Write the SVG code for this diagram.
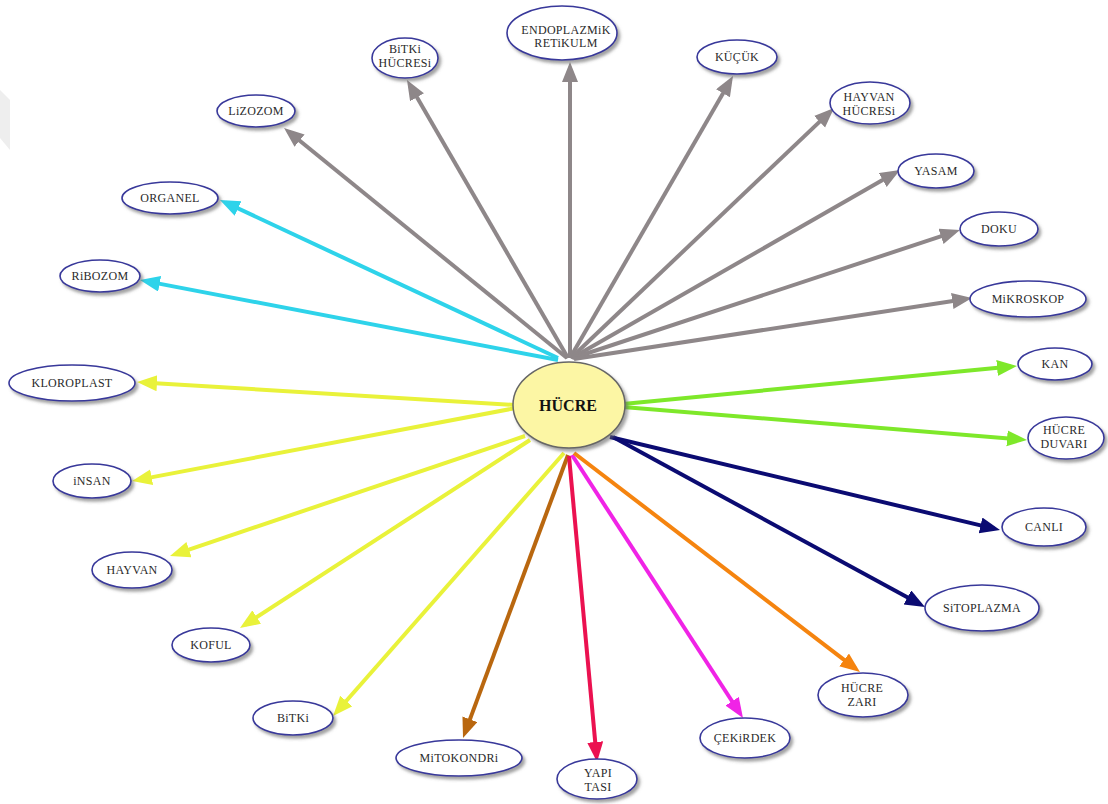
<svg xmlns="http://www.w3.org/2000/svg" width="1108" height="804" viewBox="0 0 1108 804" font-family="'Liberation Serif', 'DejaVu Serif', serif">
  <style>
    .node ellipse { fill: #ffffff; stroke: #38389a; stroke-width: 1.6; filter: url(#shadow); }
    .node text { font-family: "Liberation Serif", "DejaVu Serif", serif; font-size: 12px; letter-spacing: 0.3px; fill: #2a2a2a; text-anchor: middle; }
    #n-hucre ellipse { fill: #fcf6a4; stroke: #666666; stroke-width: 1.5; }
    #n-hucre text { font-size: 16px; font-weight: bold; letter-spacing: 0; fill: #111111; }
    .edge { stroke-width: 4; fill: none; stroke-linecap: butt; }
    .gray { stroke: #8e8789; marker-end: url(#a-gray); }
    .cyan { stroke: #2ed3ea; marker-end: url(#a-cyan); }
    .yellow { stroke: #e9f23a; marker-end: url(#a-yellow); }
    .green { stroke: #7ee82a; marker-end: url(#a-green); }
    .navy { stroke: #0b0b72; marker-end: url(#a-navy); }
    .orange { stroke: #f5840f; marker-end: url(#a-orange); }
    .magenta { stroke: #f023e6; marker-end: url(#a-magenta); }
    .red { stroke: #eb1150; marker-end: url(#a-red); }
    .brown { stroke: #b9670f; marker-end: url(#a-brown); }
  </style>
  <defs>
    <filter id="shadow" x="-20%" y="-20%" width="150%" height="160%">
      <feDropShadow dx="2.5" dy="3" stdDeviation="1.5" flood-color="#666666" flood-opacity="0.6"/>
    </filter>
    <marker id="a-gray" markerUnits="userSpaceOnUse" markerWidth="22" markerHeight="18" refX="14" refY="8" orient="auto"><path d="M0,0 L20,8 L0,16 Z" fill="#8e8789"/></marker>
    <marker id="a-cyan" markerUnits="userSpaceOnUse" markerWidth="22" markerHeight="18" refX="14" refY="8" orient="auto"><path d="M0,0 L20,8 L0,16 Z" fill="#2ed3ea"/></marker>
    <marker id="a-yellow" markerUnits="userSpaceOnUse" markerWidth="22" markerHeight="18" refX="14" refY="8" orient="auto"><path d="M0,0 L20,8 L0,16 Z" fill="#e9f23a"/></marker>
    <marker id="a-green" markerUnits="userSpaceOnUse" markerWidth="22" markerHeight="18" refX="14" refY="8" orient="auto"><path d="M0,0 L20,8 L0,16 Z" fill="#7ee82a"/></marker>
    <marker id="a-navy" markerUnits="userSpaceOnUse" markerWidth="22" markerHeight="18" refX="14" refY="8" orient="auto"><path d="M0,0 L20,8 L0,16 Z" fill="#0b0b72"/></marker>
    <marker id="a-orange" markerUnits="userSpaceOnUse" markerWidth="22" markerHeight="18" refX="14" refY="8" orient="auto"><path d="M0,0 L20,8 L0,16 Z" fill="#f5840f"/></marker>
    <marker id="a-magenta" markerUnits="userSpaceOnUse" markerWidth="22" markerHeight="18" refX="14" refY="8" orient="auto"><path d="M0,0 L20,8 L0,16 Z" fill="#f023e6"/></marker>
    <marker id="a-red" markerUnits="userSpaceOnUse" markerWidth="22" markerHeight="18" refX="14" refY="8" orient="auto"><path d="M0,0 L20,8 L0,16 Z" fill="#eb1150"/></marker>
    <marker id="a-brown" markerUnits="userSpaceOnUse" markerWidth="22" markerHeight="18" refX="14" refY="8" orient="auto"><path d="M0,0 L20,8 L0,16 Z" fill="#b9670f"/></marker>
  </defs>

  <rect width="1108" height="804" fill="#ffffff"/>
  <!-- faint page-edge tab at the upper left -->
  <polygon points="0,90 10,100 10,150 0,138" fill="#eeeeee"/>

  <g id="connectors">
    <line class="edge gray" x1="567" y1="358" x2="288.7" y2="131.8"/>
    <line class="edge gray" x1="568" y1="358" x2="410" y2="85.2"/>
    <line class="edge gray" x1="570" y1="358" x2="570" y2="68"/>
    <line class="edge gray" x1="570" y1="358" x2="730" y2="81.2"/>
    <line class="edge gray" x1="571" y1="358" x2="829.7" y2="112.1"/>
    <line class="edge gray" x1="572" y1="358" x2="894.8" y2="173"/>
    <line class="edge gray" x1="573" y1="358" x2="954.3" y2="231.9"/>
    <line class="edge gray" x1="574" y1="359" x2="966.1" y2="298.9"/>
    <line class="edge cyan" x1="558" y1="358" x2="225.4" y2="202.5"/>
    <line class="edge cyan" x1="558" y1="360" x2="145.9" y2="281.1"/>
    <line class="edge yellow" x1="515" y1="405" x2="143" y2="382.4"/>
    <line class="edge yellow" x1="516" y1="408" x2="137.9" y2="479.9"/>
    <line class="edge yellow" x1="525" y1="436" x2="175.7" y2="554.1"/>
    <line class="edge yellow" x1="530" y1="440" x2="245" y2="624.7"/>
    <line class="edge yellow" x1="564" y1="453" x2="337" y2="711.5"/>
    <line class="edge brown" x1="568" y1="455" x2="465.1" y2="732.4"/>
    <line class="edge red" x1="569" y1="456" x2="596.5" y2="756"/>
    <line class="edge magenta" x1="572" y1="455" x2="739.7" y2="713"/>
    <line class="edge orange" x1="574" y1="453" x2="855.2" y2="668.4"/>
    <line class="edge navy" x1="613" y1="437" x2="919.7" y2="604.1"/>
    <line class="edge navy" x1="610" y1="437" x2="994.2" y2="528.6"/>
    <line class="edge green" x1="623" y1="404" x2="1011" y2="366.6"/>
    <line class="edge green" x1="623" y1="407" x2="1021" y2="439.5"/>
  </g>

  <g id="n-hucre" class="node"><ellipse cx="569" cy="405" rx="56" ry="43"/><text x="568" y="411">HÜCRE</text></g>

  <g id="n-lizozom" class="node"><ellipse cx="256" cy="111" rx="39" ry="16"/><text x="256" y="115">LiZOZOM</text></g>
  <g id="n-bitki-hucresi" class="node"><ellipse cx="405" cy="58" rx="33" ry="20"/><text x="405" y="53">BiTKi</text><text x="405" y="67">HÜCRESi</text></g>
  <g id="n-endoplazmik" class="node"><ellipse cx="562" cy="33" rx="55" ry="27"/><text x="566" y="34">ENDOPLAZMiK</text><text x="566" y="47">RETiKULM</text></g>
  <g id="n-kucuk" class="node"><ellipse cx="737" cy="57" rx="40" ry="17"/><text x="737" y="61">KÜÇÜK</text></g>
  <g id="n-hayvan-hucresi" class="node"><ellipse cx="870" cy="103" rx="40" ry="21"/><text x="869" y="101">HAYVAN</text><text x="869" y="115">HÜCRESi</text></g>
  <g id="n-yasam" class="node"><ellipse cx="936" cy="171" rx="38" ry="17"/><text x="936" y="175">YASAM</text></g>
  <g id="n-doku" class="node"><ellipse cx="999" cy="229" rx="39" ry="17"/><text x="999" y="233">DOKU</text></g>
  <g id="n-mikroskop" class="node"><ellipse cx="1028" cy="299" rx="58" ry="18"/><text x="1028" y="303">MiKROSKOP</text></g>
  <g id="n-kan" class="node"><ellipse cx="1055" cy="364" rx="37" ry="16"/><text x="1055" y="368">KAN</text></g>
  <g id="n-hucre-duvari" class="node"><ellipse cx="1066" cy="438" rx="38" ry="21"/><text x="1064" y="434">HÜCRE</text><text x="1064" y="448">DUVARI</text></g>
  <g id="n-canli" class="node"><ellipse cx="1044" cy="527" rx="42" ry="19"/><text x="1044" y="531">CANLI</text></g>
  <g id="n-sitoplazma" class="node"><ellipse cx="982" cy="608" rx="57" ry="23"/><text x="982" y="612">SiTOPLAZMA</text></g>
  <g id="n-hucre-zari" class="node"><ellipse cx="863" cy="695" rx="45" ry="22"/><text x="862" y="692">HÜCRE</text><text x="862" y="706">ZARI</text></g>
  <g id="n-cekirdek" class="node"><ellipse cx="745" cy="738" rx="45" ry="20"/><text x="745" y="742">ÇEKiRDEK</text></g>
  <g id="n-yapi-tasi" class="node"><ellipse cx="597" cy="779" rx="40" ry="20"/><text x="598" y="777">YAPI</text><text x="598" y="791">TASI</text></g>
  <g id="n-mitokondri" class="node"><ellipse cx="459" cy="758" rx="63" ry="18"/><text x="459" y="762">MiTOKONDRi</text></g>
  <g id="n-bitki" class="node"><ellipse cx="293" cy="718" rx="40" ry="17"/><text x="293" y="722">BiTKi</text></g>
  <g id="n-koful" class="node"><ellipse cx="211" cy="645" rx="39" ry="17"/><text x="211" y="649">KOFUL</text></g>
  <g id="n-hayvan" class="node"><ellipse cx="132" cy="570" rx="40" ry="18"/><text x="132" y="574">HAYVAN</text></g>
  <g id="n-insan" class="node"><ellipse cx="92" cy="481" rx="39" ry="17"/><text x="92" y="485">iNSAN</text></g>
  <g id="n-kloroplast" class="node"><ellipse cx="72" cy="383" rx="63" ry="18"/><text x="72" y="387">KLOROPLAST</text></g>
  <g id="n-ribozom" class="node"><ellipse cx="100" cy="276" rx="40" ry="16"/><text x="100" y="280">RiBOZOM</text></g>
  <g id="n-organel" class="node"><ellipse cx="170" cy="198" rx="48" ry="16"/><text x="170" y="202">ORGANEL</text></g>
</svg>
